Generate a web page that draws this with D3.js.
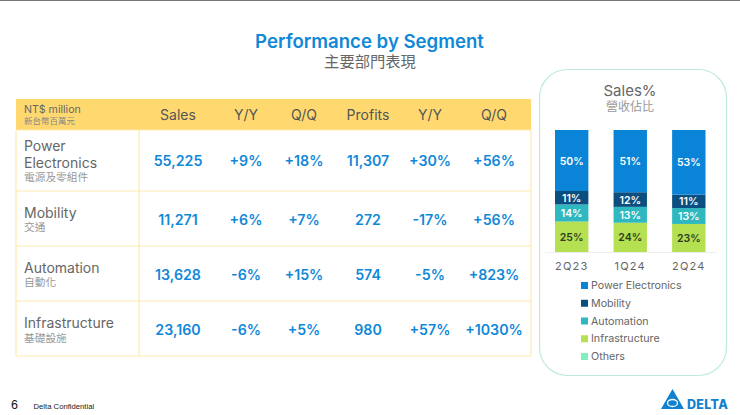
<!DOCTYPE html>
<html>
<head>
<meta charset="utf-8">
<script src="https://cdn.jsdelivr.net/npm/d3@7"></script>
<style>
	html, body { margin: 0; padding: 0; background: #fff; }
	text { font-family: Inter, "Noto Sans CJK TC", sans-serif; }
</style>
</head>
<body>
<div id="chart"></div>
<script>
// Table data
var columns = ["Sales", "Y/Y", "Q/Q", "Profits", "Y/Y", "Q/Q"];
var segments = [["Power", "Electronics"], ["Mobility"], ["Automation"], ["Infrastructure"]];
var segmentsZh = ["電源及零組件", "交通", "自動化", "基礎設施"];
var sales = ["55,225", "11,271", "13,628", "23,160"];
var salesYY = ["+9%", "+6%", "-6%", "-6%"];
var salesQQ = ["+18%", "+7%", "+15%", "+5%"];
var profits = ["11,307", "272", "574", "980"];
var profitsYY = ["+30%", "-17%", "-5%", "+57%"];
var profitsQQ = ["+56%", "+56%", "+823%", "+1030%"];

// Stacked bar data
var quarters = ["2Q23", "1Q24", "2Q24"];
var legendNames = ["Power Electronics", "Mobility", "Automation", "Infrastructure", "Others"];
var powerShare = [50, 51, 53];
var mobilityShare = [11, 12, 11];
var automationShare = [14, 13, 13];
var infraShare = [25, 24, 23];
var othersShare = [0, 0, 0];
var shareColors = ["#0a84d6", "#0a4f80", "#2fb8c0", "#b5e051", "#7df0bd"];
var labelColors = ["#fff", "#fff", "#fff", "#2f3b20"];

var w = 740;
var h = 415;
var svg = d3.select("#chart").append("svg").attr("width", w).attr("height", h).style("display", "block");

var label = function(x, y, str, size, fill, anchor, weight) {
	return svg.append("text")
		.attr("x", x).attr("y", y)
		.attr("font-size", size)
		.attr("fill", fill)
		.attr("text-anchor", anchor || "middle")
		.attr("font-weight", weight || 400)
		.text(str);
};

// Top rule and titles
svg.append("rect").attr("width", w).attr("height", 1).attr("fill", "#777");
label(369.5, 48, "Performance by Segment", 18.6, "#1088d8", "middle", 600);
label(370, 67, "主要部門表現", 15.3, "#666");

// Table
var tableLeft = 16, tableRight = 531, splitX = 139;
var rowEdges = [130, 191, 246, 301, 356];
var colCenters = [178, 246, 304, 368, 430, 494];
var lineColor = "#fde9b0";

svg.append("rect")
	.attr("x", tableLeft).attr("y", 99)
	.attr("width", tableRight - tableLeft).attr("height", 31)
	.attr("fill", "#ffd970");
label(24, 113, "NT$ million", 10.6, "#666", "start");
label(24, 124, "新台幣百萬元", 8.5, "#888", "start");
columns.forEach(function(c, i) {
	label(colCenters[i], 120, c, 14, "#555");
});

rowEdges.forEach(function(y) {
	svg.append("line").attr("x1", tableLeft).attr("x2", tableRight)
		.attr("y1", y).attr("y2", y)
		.attr("stroke", lineColor).attr("stroke-width", 1.2);
});
[tableLeft, splitX, tableRight].forEach(function(x) {
	svg.append("line").attr("x1", x).attr("x2", x)
		.attr("y1", 130).attr("y2", 356)
		.attr("stroke", lineColor).attr("stroke-width", 1.2);
});

var nameY = [[151, 168], [218], [273], [328]];
var zhY = [181, 231, 286, 342];
var valueY = [166, 225, 280, 335];
var tableCols = [sales, salesYY, salesQQ, profits, profitsYY, profitsQQ];

segments.forEach(function(s, i) {
	s.forEach(function(line, j) {
		label(24, nameY[i][j], line, 14, "#666", "start");
	});
	label(24, zhY[i], segmentsZh[i], 10.7, "#999", "start");
	tableCols.forEach(function(col, k) {
		label(colCenters[k], valueY[i], col[i], 14.2, "#1088d8", "middle", 600);
	});
});

// Sales% panel
svg.append("rect")
	.attr("x", 539.5).attr("y", 69.5)
	.attr("width", 187).attr("height", 306).attr("rx", 28)
	.attr("fill", "#fff").attr("stroke", "#bfeadf").attr("stroke-width", 1.2);
label(630, 96, "Sales%", 15, "#666");
label(630, 111, "營收佔比", 12, "#999");

var x = d3.scaleBand().domain(quarters).range([555, 705.5]).paddingInner(0.43);
var y = d3.scaleLinear().domain([0, 100]).range([252, 130]);

var shareRows = quarters.map(function(q, i) {
	return { quarter: q, s0: powerShare[i], s1: mobilityShare[i], s2: automationShare[i], s3: infraShare[i], s4: othersShare[i] };
});
// Power Electronics sits on top, Others would be at the bottom
var stack = d3.stack().keys(["s4", "s3", "s2", "s1", "s0"]);
var layers = stack(shareRows);

layers.forEach(function(layer) {
	var idx = +layer.key.slice(1);
	layer.forEach(function(d) {
		var val = d[1] - d[0];
		if (!val) return;
		svg.append("rect")
			.attr("x", x(d.data.quarter)).attr("y", y(d[1]))
			.attr("width", x.bandwidth()).attr("height", y(d[0]) - y(d[1]))
			.attr("fill", shareColors[idx]);
		label(x(d.data.quarter) + x.bandwidth() / 2, (y(d[0]) + y(d[1])) / 2 + 4, val + "%", 10.5, labelColors[idx], "middle", 600);
	});
});

svg.append("line").attr("x1", 545).attr("x2", 717).attr("y1", 252.5).attr("y2", 252.5)
	.attr("stroke", "#eee");
quarters.forEach(function(q) {
	label(x(q) + x.bandwidth() / 2, 270, q, 11, "#666").attr("letter-spacing", 1.2);
});

// Legend
var legendY = d3.scalePoint().domain(legendNames).range([285, 356]);
legendNames.forEach(function(n, i) {
	svg.append("rect")
		.attr("x", 581).attr("y", legendY(n) - 3)
		.attr("width", 7).attr("height", 7)
		.attr("fill", shareColors[i]);
	label(591, legendY(n) + 4, n, 10.7, "#666", "start");
});

// Footer
svg.append("text").attr("x", 11).attr("y", 409).attr("font-size", 12.5).attr("fill", "#111")
	.style("font-family", "'Liberation Sans'").text("6");
svg.append("text").attr("x", 33.5).attr("y", 409).attr("font-size", 7.7).attr("fill", "#222")
	.style("font-family", "'Liberation Sans'").text("Delta Confidential");

// Logo
svg.append("path").attr("d", d3.line()([[661, 409], [672.5, 389], [684, 409]]) + "Z").attr("fill", "#1180cf");
svg.append("ellipse").attr("cx", 672.5).attr("cy", 403).attr("rx", 5).attr("ry", 3.5)
	.attr("fill", "none").attr("stroke", "#fff").attr("stroke-width", 1.3);
svg.append("text").attr("x", 687).attr("y", 409).attr("font-size", 12.5).attr("font-weight", 800)
	.attr("fill", "#1180cf").attr("letter-spacing", 0.3).text("DELTA");
</script>
</body>
</html>
